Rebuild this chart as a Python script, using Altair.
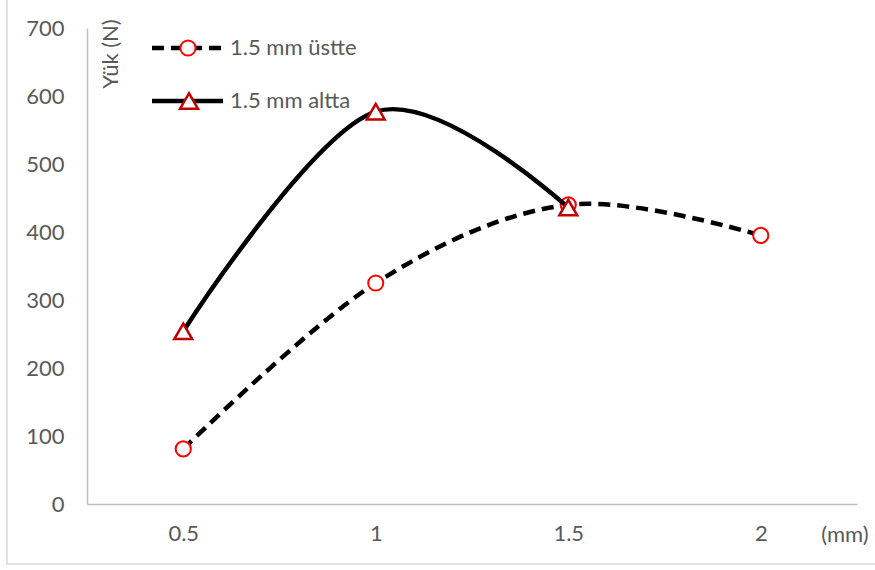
import altair as alt
import pandas as pd

# Thickness (mm) categories on the x axis
thickness = ["0.5", "1", "1.5", "2"]
# Load (N) for each layout
load_ustte = [81, 325, 440, 395]   # 1.5 mm on top
load_altta = [254, 577, 436]       # 1.5 mm at the bottom

name_ustte = "1.5 mm üstte"
name_altta = "1.5 mm altta"

df_ustte = pd.DataFrame({"t": thickness[:len(load_ustte)], "load": load_ustte, "series": name_ustte})
df_altta = pd.DataFrame({"t": thickness[:len(load_altta)], "load": load_altta, "series": name_altta})

FONT = "Lato"
FS = 22
GRAY = "#595959"
AXIS_GRAY = "#BFBFBF"

x_enc = alt.X(
    "t:N",
    sort=thickness,
    scale=alt.Scale(type="point", padding=0.5),
    axis=alt.Axis(
        title=None, labelAngle=0, ticks=False, grid=False,
        domainColor=AXIS_GRAY, domainWidth=1.5,
        labelColor=GRAY, labelFont=FONT, labelFontSize=FS, labelPadding=19,
    ),
)
y_enc = alt.Y(
    "load:Q",
    scale=alt.Scale(domain=[0, 700], nice=False),
    axis=alt.Axis(
        title=None, values=list(range(0, 701, 100)), ticks=False, grid=False,
        domainColor=AXIS_GRAY, domainWidth=1.5,
        labelColor=GRAY, labelFont=FONT, labelFontSize=FS, labelPadding=23,
    ),
)

DASH = [12, 7]

line_ustte = alt.Chart(df_ustte).mark_line(
    interpolate="cardinal", color="black", strokeWidth=4.5, strokeDash=DASH
).encode(x=x_enc, y=y_enc)

pts_ustte = alt.Chart(df_ustte).mark_point(
    shape="circle", filled=True, fill="white", stroke="#FF0000", strokeWidth=2, size=230, opacity=1
).encode(x=x_enc, y=y_enc)

line_altta = alt.Chart(df_altta).mark_line(
    interpolate="cardinal", color="black", strokeWidth=4.5
).encode(x=x_enc, y=y_enc)

pts_altta = alt.Chart(df_altta).mark_point(
    shape="triangle-up", filled=True, fill="white", stroke="#C00000", strokeWidth=2.5, size=320, opacity=1
).encode(x=x_enc, y=y_enc)

# Hand-drawn legend in the upper-left corner of the plot
leg = alt.Chart(pd.DataFrame({"k": [0]}))
leg_line1 = leg.mark_rule(color="black", strokeWidth=4.5, strokeDash=DASH).encode(
    x=alt.value(65), x2=alt.value(135), y=alt.value(20))
leg_pt1 = leg.mark_point(shape="circle", filled=True, fill="white", stroke="#FF0000",
                         strokeWidth=2, size=230, opacity=1).encode(x=alt.value(101), y=alt.value(20))
leg_txt1 = leg.mark_text(align="left", baseline="middle", font=FONT, fontSize=FS, color=GRAY,
                         text=name_ustte).encode(x=alt.value(143), y=alt.value(20))
leg_line2 = leg.mark_rule(color="black", strokeWidth=4.5).encode(
    x=alt.value(65), x2=alt.value(136), y=alt.value(73))
leg_pt2 = leg.mark_point(shape="triangle-up", filled=True, fill="white", stroke="#C00000",
                         strokeWidth=2.5, size=320, opacity=1).encode(x=alt.value(102), y=alt.value(73))
leg_txt2 = leg.mark_text(align="left", baseline="middle", font=FONT, fontSize=FS, color=GRAY,
                         text=name_altta).encode(x=alt.value(143), y=alt.value(73))

# Axis titles
y_title = leg.mark_text(angle=270, align="center", baseline="middle", font=FONT, fontSize=FS,
                        color=GRAY, text="Yük (N)").encode(x=alt.value(24), y=alt.value(26))
x_title = leg.mark_text(align="center", baseline="middle", font=FONT, fontSize=FS,
                        color=GRAY, text="(mm)").encode(x=alt.value(758), y=alt.value(507))

# Chart-area frame
frame = leg.mark_rect(fillOpacity=0, stroke="#D9D9D9", strokeWidth=1.5).encode(
    x=alt.value(-80), x2=alt.value(795), y=alt.value(-40), y2=alt.value(536))

chart = alt.layer(
    frame, line_ustte, pts_ustte, line_altta, pts_altta,
    leg_line1, leg_pt1, leg_txt1, leg_line2, leg_pt2, leg_txt2,
    y_title, x_title,
).properties(
    width=770, height=476,
    autosize=alt.AutoSizeParams(type="none"),
    padding={"left": 87, "top": 28, "right": 18, "bottom": 66},
    background="white",
).configure_view(stroke=None)

chart.save("out.html", embed_options={"renderer": "svg", "actions": False})
